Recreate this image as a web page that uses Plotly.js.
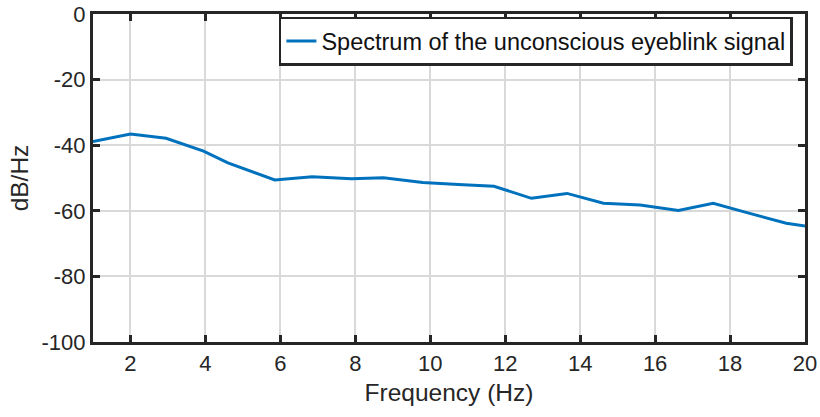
<!DOCTYPE html>
<html>
<head>
<meta charset="utf-8">
<script src="https://cdn.plot.ly/plotly-3.0.1.min.js"></script>
<style>html,body{margin:0;padding:0;background:#fff;}#chart{width:820px;height:417px;}</style>
</head>
<body>
<div id="chart"></div>
<script>
const freqHz = [1.0, 2.0, 2.95, 3.95, 4.6, 5.85, 6.85, 7.9, 8.75, 9.8, 10.75, 11.7, 12.7, 13.65, 14.62, 15.6, 16.62, 17.55, 18.5, 19.5, 20.0];
const psdDb  = [-38.9, -36.6, -37.9, -41.8, -45.4, -50.6, -49.6, -50.2, -49.9, -51.4, -52.0, -52.5, -56.2, -54.7, -57.7, -58.2, -59.9, -57.7, -60.7, -63.8, -64.6];
const seriesName = 'Spectrum of the unconscious eyeblink signal';
const xTicks = [2, 4, 6, 8, 10, 12, 14, 16, 18, 20];
const yTicks = [0, -20, -40, -60, -80, -100];
const yTickText = ['0', '-20', '-40', '-60', '-80', '-100'];

const fontFam = '"Liberation Sans", Arial, Helvetica, sans-serif';
const textCol = '#262626';

Plotly.newPlot('chart', [{
  x: freqHz, y: psdDb, type: 'scatter', mode: 'lines', name: seriesName,
  line: {color: '#0072BD', width: 3}
}], {
  width: 820, height: 417,
  margin: {l: 93, r: 15, t: 14, b: 75},
  paper_bgcolor: '#fff', plot_bgcolor: '#fff',
  font: {family: fontFam, color: textCol, size: 22},
  showlegend: true,
  legend: {
    x: 0.983, xanchor: 'right', y: 0.992, yanchor: 'top',
    bgcolor: '#fff', bordercolor: textCol, borderwidth: 2.5,
    font: {family: fontFam, size: 23.5, color: '#111'},
    itemwidth: 30, tracegroupgap: 0
  },
  xaxis: {
    range: [1, 20], tickvals: xTicks, ticks: 'inside', ticklen: 7, tickwidth: 3, tickcolor: textCol,
    showline: true, linecolor: textCol, linewidth: 3, mirror: 'ticks',
    showgrid: true, gridcolor: '#d9d9d9', gridwidth: 2, zeroline: false,
    tickfont: {size: 22, color: textCol},
    title: {text: 'Frequency (Hz)', font: {size: 24.5, color: textCol}, standoff: 9}
  },
  yaxis: {
    range: [-100, 0], tickvals: yTicks, ticktext: yTickText, ticks: 'inside', ticklen: 7, tickwidth: 3, tickcolor: textCol,
    showline: true, linecolor: textCol, linewidth: 3, mirror: 'ticks',
    showgrid: true, gridcolor: '#d9d9d9', gridwidth: 2, zeroline: false,
    tickfont: {size: 22, color: textCol},
    title: {text: 'dB/Hz', font: {size: 24.5, color: textCol}, standoff: 6}
  }
}, {staticPlot: true});
</script>
</body>
</html>
